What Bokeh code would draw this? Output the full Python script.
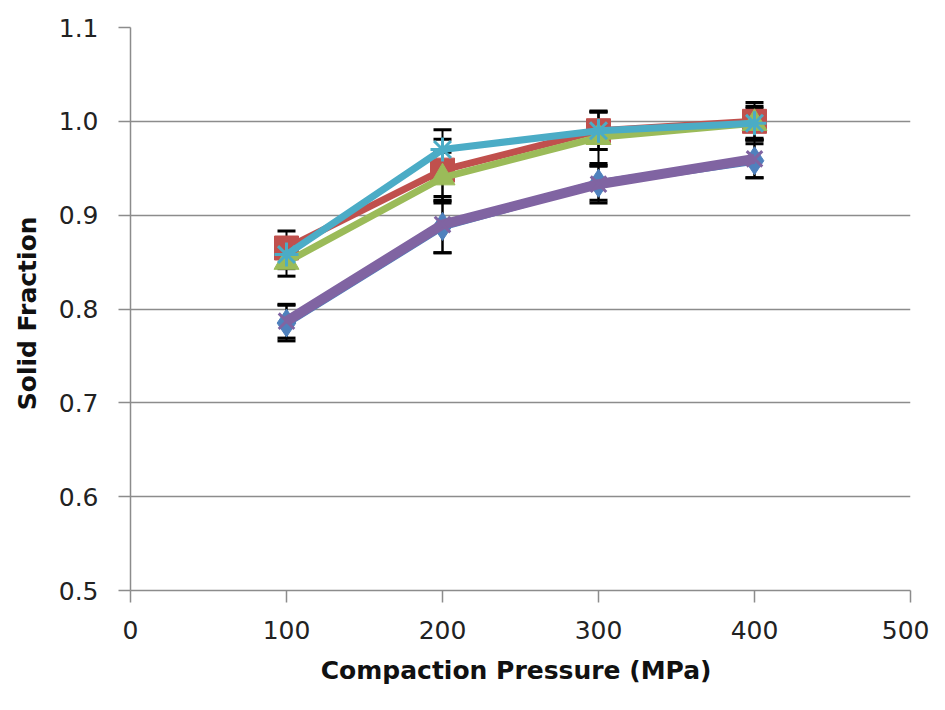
from bokeh.plotting import figure
from bokeh.models import ColumnDataSource, Whisker, TeeHead, FixedTicker, Range1d
from bokeh.embed import file_html
from bokeh.resources import INLINE

pressure = [100, 200, 300, 400]

blue_vals = [0.785, 0.888, 0.934, 0.958]
blue_err = [0.019, 0.028, 0.018, 0.018]

red_vals = [0.865, 0.948, 0.990, 1.000]
red_err = [0.018, 0.033, 0.020, 0.020]

green_vals = [0.850, 0.940, 0.983, 0.998]
green_err = [0.015, 0.027, 0.028, 0.016]

purple_vals = [0.787, 0.890, 0.933, 0.960]
purple_err = [0.018, 0.030, 0.020, 0.020]

cyan_vals = [0.858, 0.970, 0.990, 0.998]
cyan_err = [0.015, 0.021, 0.020, 0.018]

y_ticks = [0.5, 0.6, 0.7, 0.8, 0.9, 1.0, 1.1]
x_ticks = [0, 100, 200, 300, 400, 500]

series = [
    ("blue", blue_vals, blue_err, "#4F81BD", "diamond", 28, 8),
    ("red", red_vals, red_err, "#C0504D", "square", 24, 7),
    ("green", green_vals, green_err, "#9BBB59", "triangle", 25, 7),
    ("purple", purple_vals, purple_err, "#8064A2", "x", 22, 10),
    ("cyan", cyan_vals, cyan_err, "#4BACC6", "asterisk", 24, 7),
]

p = figure(width=929, height=694, output_backend="svg", toolbar_location=None,
           x_range=Range1d(0, 500), y_range=Range1d(0.5, 1.1),
           min_border_left=130, min_border_right=19, min_border_top=27,
           min_border_bottom=104)
p.outline_line_color = None
p.background_fill_color = "white"
p.border_fill_color = "white"

# error bars
for name, vals, errs, col, mk, sz, lw in series:
    src = ColumnDataSource(dict(x=pressure,
                                upper=[v + e for v, e in zip(vals, errs)],
                                lower=[v - e for v, e in zip(vals, errs)]))
    w = Whisker(base="x", upper="upper", lower="lower", source=src,
                line_color="black", line_width=2,
                upper_head=TeeHead(size=18, line_color="black", line_width=3),
                lower_head=TeeHead(size=18, line_color="black", line_width=3))
    p.add_layout(w)

for name, vals, errs, col, mk, sz, lw in series:
    p.line(pressure, vals, line_color=col, line_width=lw)
    if mk in ("x", "asterisk"):
        p.scatter(pressure, vals, marker=mk, size=sz, line_color=col, line_width=3)
    else:
        p.scatter(pressure, vals, marker=mk, size=sz, fill_color=col, line_color=col)

p.xgrid.grid_line_color = None
p.ygrid.grid_line_color = "#8C8C8C"
p.ygrid.grid_line_width = 1.5
p.ygrid.ticker = FixedTicker(ticks=y_ticks)

p.yaxis.ticker = FixedTicker(ticks=y_ticks)
p.xaxis.ticker = FixedTicker(ticks=x_ticks)
p.yaxis.major_label_overrides = {t: f"{t:.1f}" for t in y_ticks}
p.xaxis.major_label_overrides = {t: str(t) for t in x_ticks}

for ax in (p.xaxis[0], p.yaxis[0]):
    ax.axis_line_color = "#8C8C8C"
    ax.axis_line_width = 1.5
    ax.major_tick_line_color = "#8C8C8C"
    ax.major_tick_line_width = 1.5
    ax.major_tick_out = 12
    ax.major_tick_in = 0
    ax.minor_tick_line_color = None
    ax.major_label_text_font = "DejaVu Sans"
    ax.major_label_text_font_size = "25px"
    ax.major_label_text_color = "#222222"

p.yaxis.major_label_standoff = 20
p.xaxis.major_label_standoff = 18
p.xaxis.axis_label = "Compaction  Pressure (MPa)"
p.xaxis.axis_label_text_font = "DejaVu Sans"
p.xaxis.axis_label_text_font_style = "bold"
p.xaxis.axis_label_text_font_size = "25px"
p.xaxis.axis_label_text_color = "#111111"
p.xaxis.axis_label_standoff = 14
p.yaxis.axis_label = "Solid  Fraction"
p.yaxis.axis_label_text_font = "DejaVu Sans"
p.yaxis.axis_label_text_font_style = "bold"
p.yaxis.axis_label_text_font_size = "25px"
p.yaxis.axis_label_text_color = "#111111"
p.yaxis.axis_label_standoff = 14

open("out.html", "w").write(file_html(p, INLINE))
